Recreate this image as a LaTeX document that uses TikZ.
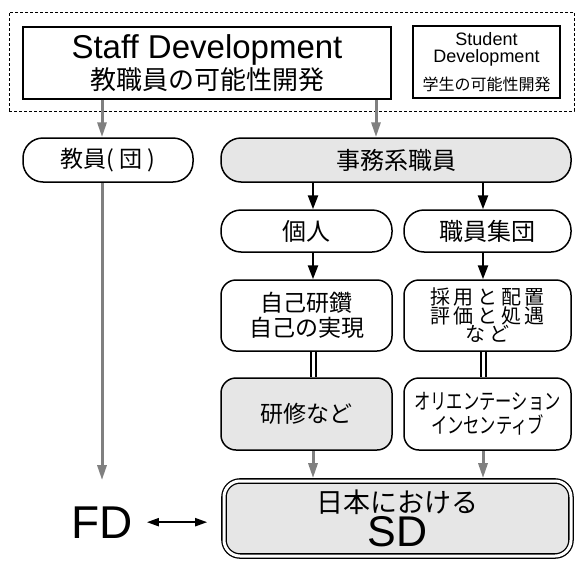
\documentclass[tikz,border=0pt]{standalone}
\usepackage{fontspec}
\usepackage{graphicx}
\setmainfont{Liberation Sans}
\newfontfamily\jp{Noto Sans CJK JP}
\newfontfamily\jpwide[LetterSpace=18]{Noto Sans CJK JP}
\usetikzlibrary{arrows.meta}
\definecolor{boxgray}{HTML}{E6E6E6}
\definecolor{arrowgray}{HTML}{808080}
\newcommand{\narrowtext}[1]{\scalebox{0.74}[1]{#1}}
\begin{document}
\begin{tikzpicture}[x=1pt,y=-1pt,
  box/.style={draw, line width=1.5pt, inner sep=0pt, align=center},
  pill/.style={box, rounded corners=20pt},
  rbox/.style={box, rounded corners=15pt},
  shaded/.style={fill=boxgray},
  garrow/.style={draw=arrowgray, line width=3pt, -{Triangle[length=15pt,width=9pt]}},
  barrow/.style={line width=2.4pt, -{Triangle[length=14pt,width=10pt]}},
  dbl/.style={double, double distance=3pt, line width=2pt},
  jpf/.style={font=\jp\fontsize{#1}{#1}\selectfont}
]
\useasboundingbox (0,0) rectangle (575,562);

% columns for the connectors
\coordinate (cL) at (102,0);
\coordinate (cM) at (376,0);
\coordinate (cA) at (313,0);
\coordinate (cB) at (483,0);

% top group
\node[draw, dashed, dash pattern=on 3pt off 2pt, line width=0.8pt, minimum width=565pt, minimum height=99pt, inner sep=0pt] (grp) at (291.5,61.5) {};
\node[box, minimum width=368pt, minimum height=72pt, font=\fontsize{33}{31}\selectfont] (staff) at (207,63)
  {Staff Development\\{\jp\fontsize{26}{31}\selectfont 教職員の可能性開発}};
\node[box, minimum width=147pt, minimum height=72pt, font=\fontsize{18}{17}\selectfont] (student) at (486.5,62)
  {Student\\Development\\[10pt]{\jp\fontsize{16}{17}\selectfont 学生の可能性開発}};

% second row
\node[pill, minimum width=170pt, minimum height=44pt, jpf=23] (kyoin) at (108,160) {教員( 団 )};
\node[pill, shaded, minimum width=350pt, minimum height=44pt, jpf=24] (jimu) at (396,160) {事務系職員};

% third row
\node[pill, minimum width=171pt, minimum height=42pt, jpf=24] (kojin) at (306.5,231) {個人};
\node[pill, minimum width=167pt, minimum height=42pt, jpf=24] (shudan) at (487.5,231) {職員集団};

% fourth row
\node[rbox, minimum width=171pt, minimum height=71pt, font=\jp\fontsize{23}{25}\selectfont] (jiko) at (306.5,315.5)
  {自己研鑽\\自己の実現};
\node[rbox, minimum width=167pt, minimum height=71pt, font=\jpwide\fontsize{20}{18.5}\selectfont] (saiyo) at (487.5,315.5)
  {採用と配置\\評価と処遇\\など};

% fifth row
\node[rbox, shaded, minimum width=171pt, minimum height=72pt, jpf=23] (kenshu) at (306.5,414) {研修など};
\node[rbox, minimum width=167pt, minimum height=72pt, font=\jp\fontsize{22}{24}\selectfont] (orient) at (487.5,414)
  {\narrowtext{オリエンテーション}\\\narrowtext{インセンティブ}};

% bottom
\node[box, shaded, line width=1.3pt, double, double distance=3pt, outer sep=2.8pt, rounded corners=16pt,
  minimum width=347pt, minimum height=75pt, font=\fontsize{43}{34}\selectfont] (sd) at (397.5,518.5)
  {{\jp\fontsize{27}{34}\selectfont 日本における}\\SD};
\node[inner sep=0pt, anchor=base, font=\fontsize{46}{46}\selectfont] (fd) at (102,538) {FD};

% connectors
\draw[garrow] (staff.south -| cL) -- (kyoin.north -| cL);
\draw[garrow] (staff.south -| cM) -- (jimu.north -| cM);
\draw[barrow] (jimu.south -| cA) -- (kojin.north -| cA);
\draw[barrow] (jimu.south -| cB) -- (shudan.north -| cB);
\draw[barrow] (kojin.south -| cA) -- (jiko.north -| cA);
\draw[barrow] (shudan.south -| cB) -- (saiyo.north -| cB);
\draw[dbl] (jiko.south -| cA) -- (kenshu.north -| cA);
\draw[dbl] (saiyo.south -| cB) -- (orient.north -| cB);
\draw[garrow] (kenshu.south -| cA) -- (sd.north -| cA);
\draw[garrow] (orient.south -| cB) -- (sd.north -| cB);
\draw[garrow, shorten >=26pt] (kyoin.south -| cL) -- (fd.north);
\draw[line width=2pt, {Triangle[length=12pt,width=8pt]}-{Triangle[length=12pt,width=8pt]}, shorten <=14pt, shorten >=14pt]
  (fd.east) -- (fd.east -| sd.west);
\end{tikzpicture}
\end{document}
